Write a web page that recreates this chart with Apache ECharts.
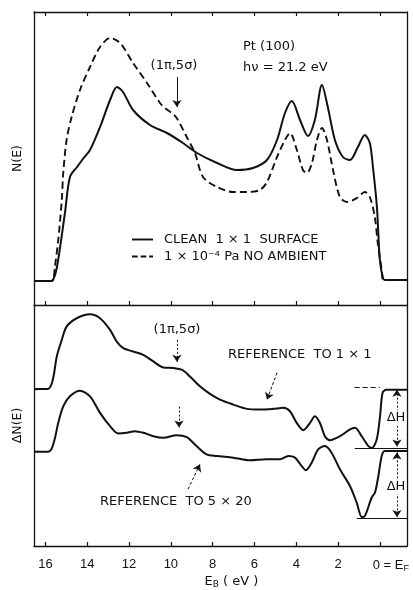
<!DOCTYPE html>
<html><head><meta charset="utf-8">
<script src="https://cdn.jsdelivr.net/npm/echarts@6/dist/echarts.min.js"></script>
<style>html,body{margin:0;padding:0;background:#fff}#c{width:413px;height:590px}</style>
</head><body><div id="c"></div>
<script>
// ---- data (binding energy E_B in eV, intensity in arbitrary units) ----
const eTicks = [16, 14, 12, 10, 8, 6, 4, 2, 0];

const cleanE = [16.5, 15.78, 15.64, 15.45, 15.07, 14.83, 14.49, 14.21, 13.87, 13.39, 12.91, 12.58, 12.29, 11.81, 11.00, 10.19, 9.42, 8.75, 7.79, 6.84, 6.07, 5.40, 4.92, 4.54, 4.21, 3.82, 3.44, 3.11, 2.77, 2.49, 2.15, 1.77, 1.43, 1.05, 0.72, 0.48, 0.33, 0.14, 0.0, -0.15, -0.24, -1.3];
const cleanN = [24, 24, 25, 38, 92, 128, 138, 146, 155, 178, 205, 218, 213, 195, 180, 172, 162, 152, 142, 135, 137, 145, 165, 192, 204, 185, 169, 185, 220, 198, 165, 148, 145, 158, 170, 162, 138, 98, 45, 27, 25, 25];

const dosedE = [16.5, 15.78, 15.64, 15.55, 15.39, 15.22, 15.15, 14.99, 14.75, 14.35, 13.87, 13.39, 12.91, 12.43, 11.81, 11.14, 10.52, 10.28, 9.96, 9.72, 9.24, 8.85, 8.46, 7.79, 7.03, 6.36, 5.74, 5.40, 4.92, 4.54, 4.30, 3.97, 3.68, 3.49, 3.25, 3.01, 2.77, 2.53, 2.24, 1.91, 1.57, 1.10, 0.72, 0.48, 0.24, 0.10, -0.09, -0.15, -0.24, -1.3];
const dosedN = [24, 24, 25, 38, 65, 105, 132, 165, 188, 215, 238, 258, 267, 262, 242, 222, 202, 197, 192, 187, 168, 152, 128, 118, 113, 113, 115, 123, 148, 165, 172, 155, 135, 132, 142, 165, 177, 165, 135, 108, 103, 107, 113, 108, 88, 62, 35, 25, 25, 25];

const ref11E = [16.5, 15.88, 15.72, 15.60, 15.46, 15.22, 14.99, 14.51, 13.87, 13.39, 12.91, 12.59, 12.28, 11.80, 11.32, 10.84, 10.36, 9.88, 9.48, 9.09, 8.61, 8.13, 7.65, 7.01, 6.37, 5.74, 5.10, 4.62, 4.30, 3.98, 3.66, 3.34, 3.11, 2.87, 2.63, 2.39, 1.91, 1.43, 1.19, 0.87, 0.55, 0.38, 0.15, -0.01, -0.13, -0.32, -1.3];
const ref11N = [157.7, 157.7, 162, 172, 190.3, 207, 220.3, 228.7, 232.7, 228.7, 217, 205.3, 198.7, 195.3, 192, 185.3, 179.3, 178.7, 177, 170.3, 160.3, 152.7, 147, 142, 137.7, 137, 137.7, 138.7, 135.3, 123.7, 116.3, 123.7, 130.3, 123.7, 110.3, 106.3, 110.3, 117, 118.7, 110.3, 100.3, 98.5, 107, 130.3, 153.7, 157, 157];

const ref520E = [16.5, 15.88, 15.72, 15.55, 15.39, 15.15, 14.83, 14.35, 13.87, 13.39, 12.91, 12.52, 12.11, 11.72, 11.32, 10.84, 10.36, 9.72, 9.24, 8.77, 8.29, 7.81, 7.01, 6.22, 5.42, 4.78, 4.38, 4.06, 3.74, 3.54, 3.26, 2.95, 2.63, 2.31, 1.91, 1.43, 1.11, 0.86, 0.71, 0.39, 0.23, 0.07, -0.09, -0.24, -1.3];
const ref520N = [94.7, 94.7, 97, 108, 123.7, 140.3, 150.3, 156, 150.3, 133.7, 120.3, 113, 113.7, 115.3, 113.7, 110.3, 108.7, 111.3, 109.3, 100.3, 92, 90.3, 88.7, 86, 87, 87, 90.3, 88.7, 80.3, 76, 83.7, 97, 100.3, 93.7, 77, 60.3, 43.7, 29, 30.3, 48.7, 53.7, 70.3, 90.3, 95.3, 95.3];

const baselines = [157.7, 94.7];

// ---- chart ----
const ink = '#111';
const FONT = 'DejaVu Sans';
const TFONT = 'Liberation Sans';
const pairs = (xs, ys) => xs.map((x, i) => [x, ys[i]]);

function xa(grid, pos, labels) {
  return {
    type: 'value', gridIndex: grid, position: pos, min: -1.3, max: 16.55, inverse: true,
    axisLine: { show: true, onZero: false, lineStyle: { color: ink, width: 1.3 } },
    axisTick: { show: true, inside: true, length: 4, customValues: eTicks, lineStyle: { color: ink, width: 1.2 } },
    axisLabel: {
      show: labels, customValues: eTicks, margin: 12,
      formatter: v => v === 0 ? '{pad|}{t|0 = E}{s|F}' : '{t|' + v + '}',
      rich: {
        pad: { width: 22 },
        t: { fontFamily: TFONT, fontSize: 13, color: ink },
        s: { fontFamily: TFONT, fontSize: 9, color: ink, verticalAlign: 'bottom', padding: [6, 0, 0, 0] }
      }
    },
    splitLine: { show: false }
  };
}
function ya(grid, pos, max, name, ticks) {
  return {
    type: 'value', gridIndex: grid, position: pos, min: 0, max: max,
    name: name, nameLocation: 'middle', nameGap: 10,
    nameTextStyle: { fontFamily: FONT, fontSize: 12.5, color: ink },
    axisLine: { show: true, onZero: false, lineStyle: { color: ink, width: 1.3 } },
    axisTick: ticks ? { show: true, inside: true, length: 5, customValues: ticks, lineStyle: { color: ink, width: 1.3 } } : { show: false },
    axisLabel: { show: false },
    splitLine: { show: false }
  };
}

const arrow = (a, b, type) => [
  { coord: a, symbol: 'none', lineStyle: { type: type, width: 1, color: ink } },
  { coord: b, symbol: 'arrow' }
];
const dbl = (a, b) => [
  { coord: a, symbol: 'arrow', lineStyle: { type: [2, 2], width: 1, color: ink } },
  { coord: b, symbol: 'arrow' }
];
const seg = (a, b, type) => [
  { coord: a, symbol: 'none', lineStyle: { type: type, width: 1, color: ink } },
  { coord: b, symbol: 'none' }
];

const cleanName = 'CLEAN  1 × 1  SURFACE';
const dosedName = '1 × 10⁻⁴ Pa NO AMBIENT';

const txt = (x, y, text, align, extra) => ({
  type: 'text', x: x, y: y, z: 100,
  style: Object.assign({ text: text, fontFamily: FONT, fontSize: 13, fill: ink, align: align, verticalAlign: 'middle' }, extra || {})
});

const option = {
  animation: false,
  backgroundColor: '#fff',
  grid: [
    { left: 34, top: 12, width: 373, height: 293 },
    { left: 34, top: 305, width: 373, height: 242 }
  ],
  xAxis: [
    xa(0, 'bottom', false),
    xa(0, 'top', false),
    Object.assign(xa(1, 'bottom', true), {
      name: 'E{sub|B} ( eV )', nameLocation: 'middle', nameGap: 28,
      nameTextStyle: {
        fontFamily: FONT, fontSize: 13, color: ink, padding: [0, 0, 0, 22],
        rich: { sub: { fontFamily: FONT, fontSize: 9, color: ink, verticalAlign: 'bottom', padding: [6, 0, 0, 0] } }
      }
    })
  ],
  yAxis: [
    ya(0, 'left', 293, 'N(E)', null),
    ya(0, 'right', 293, '', null),
    ya(1, 'left', 242, 'ΔN(E)', baselines),
    ya(1, 'right', 242, '', null)
  ],
  legend: {
    data: [
      { name: cleanName, icon: 'path://M0,0h22v2h-22z' },
      { name: dosedName, icon: 'path://M0,0h6v2h-6zM9,0h6v2h-6zM18,0h4v2h-4z' }
    ],
    orient: 'vertical', left: 127, top: 228,
    itemWidth: 21, itemHeight: 2, itemGap: 4, selectedMode: false,
    itemStyle: { color: ink, borderWidth: 0 },
    textStyle: { fontFamily: FONT, fontSize: 13, color: ink, padding: [0, 0, 0, 6] }
  },
  series: [
    {
      type: 'line', name: cleanName, xAxisIndex: 0, yAxisIndex: 0, data: pairs(cleanE, cleanN),
      symbol: 'none', smooth: 0.3, lineStyle: { color: ink, width: 2 }, itemStyle: { color: ink }
    },
    {
      type: 'line', name: dosedName, xAxisIndex: 0, yAxisIndex: 0, data: pairs(dosedE, dosedN),
      symbol: 'none', smooth: 0.3, lineStyle: { color: ink, width: 1.9, type: [7, 4] }, itemStyle: { color: ink },
      markLine: { silent: true, symbolSize: 7, label: { show: false },
        data: [arrow([9.71, 228], [9.71, 198], 'solid')] }
    },
    {
      type: 'line', name: 'REFERENCE TO 1 × 1', xAxisIndex: 2, yAxisIndex: 2, data: pairs(ref11E, ref11N),
      symbol: 'none', smooth: 0.3, lineStyle: { color: ink, width: 2 }, itemStyle: { color: ink },
      markLine: { silent: true, symbolSize: 7, label: { show: false },
        data: [
          arrow([9.71, 207], [9.71, 185], [2, 2]),
          arrow([4.92, 174], [5.40, 147], [3, 2]),
          seg([1.2, 159], [0.0, 159], [5, 3]),
          seg([1.2, 98.5], [-1.3, 98.5], 'solid'),
          dbl([-0.82, 157], [-0.82, 100])
        ] }
    },
    {
      type: 'line', name: 'REFERENCE TO 5 × 20', xAxisIndex: 2, yAxisIndex: 2, data: pairs(ref520E, ref520N),
      symbol: 'none', smooth: 0.3, lineStyle: { color: ink, width: 2 }, itemStyle: { color: ink },
      markLine: { silent: true, symbolSize: 7, label: { show: false },
        data: [
          arrow([9.61, 140], [9.61, 119], [2, 2]),
          arrow([9.18, 57], [8.61, 82], [3, 2]),
          seg([1.1, 27.5], [-1.3, 27.5], 'solid'),
          dbl([-0.82, 94], [-0.82, 29])
        ] }
    }
  ],
  graphic: [
    txt(174, 66, '(1π,5σ)', 'center'),
    txt(243, 47, 'Pt (100)', 'left'),
    txt(243, 68, 'hν = 21.2 eV', 'left'),
    txt(177, 330, '(1π,5σ)', 'center'),
    txt(228, 355, 'REFERENCE  TO 1 × 1', 'left'),
    txt(100, 502, 'REFERENCE  TO 5 × 20', 'left'),
    txt(396, 418, 'ΔH', 'center', { backgroundColor: '#fff', padding: [1, 1] }),
    txt(396, 487, 'ΔH', 'center', { backgroundColor: '#fff', padding: [1, 1] })
  ]
};

const chart = echarts.init(document.getElementById('c'), null, { renderer: 'canvas' });
chart.setOption(option);
</script></body></html>
